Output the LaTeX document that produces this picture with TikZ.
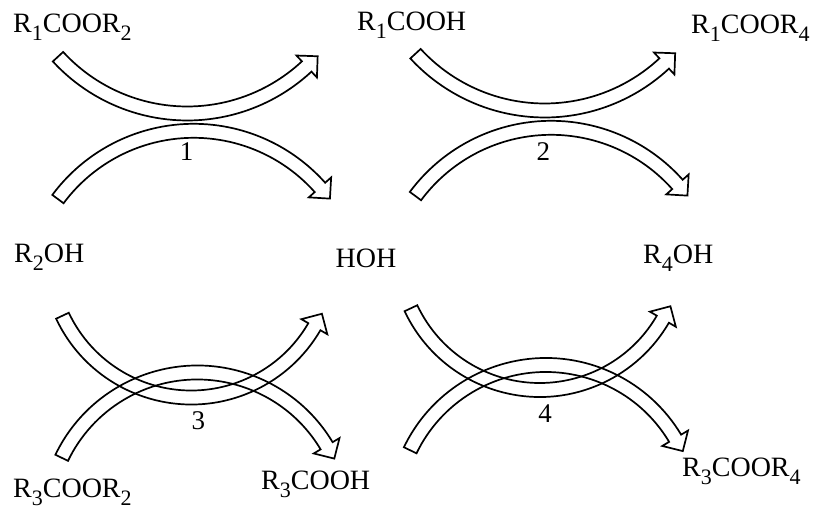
\documentclass[tikz,border=0pt]{standalone}
\usepackage{fontspec}
\setmainfont{Liberation Serif}
\usetikzlibrary{calc}
\newcommand{\sbs}[1]{\raisebox{-0.28em}{\fontsize{22}{22}\selectfont #1}}
\newcommand{\hollowarc}[7]{%
  \pgfmathsetmacro{\Ro}{#3+7}\pgfmathsetmacro{\Ri}{#3-7}%
  \pgfmathsetmacro{\Rb}{#3+15}\pgfmathsetmacro{\Rc}{#3-15}%
  \pgfmathsetmacro{\tang}{#5+#6*90}%
  \coordinate (#7c) at (#1,#2);
  \draw[arrowline] ($(#7c)+(#4:\Ro)$) arc[start angle=#4, end angle=#5, radius=\Ro]
    -- ($(#7c)+(#5:\Rb)$) -- ($(#7c)+(#5:#3)+(\tang:15)$) -- ($(#7c)+(#5:\Rc)$)
    -- ($(#7c)+(#5:\Ri)$) arc[start angle=#5, end angle=#4, radius=\Ri] -- cycle;
}
\begin{document}
\begin{tikzpicture}[x=1pt,y=1pt,
  arrowline/.style={line width=1.7pt, line join=miter},
  chem/.style={anchor=base west, inner sep=0pt, font=\fontsize{28}{32}\selectfont},
  num/.style={inner sep=0pt, font=\fontsize{27}{32}\selectfont}]
\fill[white] (0,0) rectangle (816,511);
\useasboundingbox (0,0) rectangle (816,511);
% panel 1
\hollowarc{187.2}{572.9}{175.4}{222.55}{312.94}{1}{pa}
\hollowarc{193.7}{211.1}{169.1}{143.4}{41.7}{-1}{pb}
% panel 2
\hollowarc{544.7}{575.9}{175.4}{222.55}{312.94}{1}{pc}
\hollowarc{551.2}{214.1}{169.1}{143.4}{41.7}{-1}{pd}
% panel 3
\hollowarc{191.3}{255.9}{142.4}{205.2}{329.8}{1}{pe}
\hollowarc{197.4}{-12.1}{150.6}{154.3}{30.9}{-1}{pf}
% panel 4
\hollowarc{539.8}{263.4}{142.4}{205.2}{329.8}{1}{pg}
\hollowarc{545.9}{-4.6}{150.6}{154.3}{30.9}{-1}{ph}
% labels
\node[num] (n1) at (186.7,359) {1};
\node[num] (n2) at (543.3,359) {2};
\node[num] (n3) at (198.3,90) {3};
\node[num] (n4) at (545,97) {4};
% texts
\node[chem] (t1) at (13,478) {R\sbs{1}COOR\sbs{2}};
\node[chem] (t2) at (357,480) {R\sbs{1}COOH};
\node[chem] (t3) at (691,477) {R\sbs{1}COOR\sbs{4}};
\node[chem] (t4) at (14,248) {R\sbs{2}OH};
\node[chem] (t5) at (335.5,243) {HOH};
\node[chem] (t6) at (643,247) {R\sbs{4}OH};
\node[chem] (t7) at (13,13) {R\sbs{3}COOR\sbs{2}};
\node[chem] (t8) at (261,21) {R\sbs{3}COOH};
\node[chem] (t9) at (682,34) {R\sbs{3}COOR\sbs{4}};
\end{tikzpicture}
\end{document}
